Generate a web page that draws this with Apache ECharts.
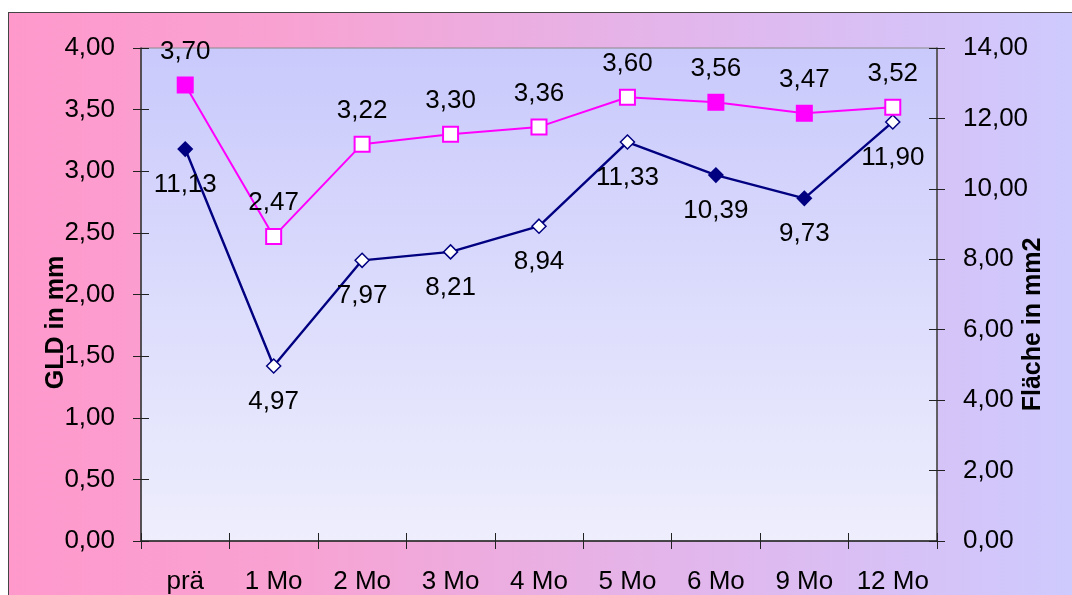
<!DOCTYPE html>
<html>

<head>
    <meta charset="utf-8">
    <script src="https://cdn.jsdelivr.net/npm/echarts@6/dist/echarts.min.js"></script>
    <style>
        body { margin: 0; overflow: hidden; background: #fff; }
        #frame {
            position: absolute; left: 8px; top: 12px; width: 1100px; height: 600px;
            border: 1px solid #444;
            background: linear-gradient(to right, #ff99cc 0%, #f8a2d2 25%, #e0b8ee 65%, #ccccff 100%);
        }
        #main { position: absolute; left: 0; top: 0; width: 1072px; height: 595px; }
    </style>
</head>

<body>
    <div id="frame"></div>
    <div id="main"></div>
    <script type="text/javascript">
        var months = ['prä', '1 Mo', '2 Mo', '3 Mo', '4 Mo', '5 Mo', '6 Mo', '9 Mo', '12 Mo'];
        var gld = [3.70, 2.47, 3.22, 3.30, 3.36, 3.60, 3.56, 3.47, 3.52];
        var flaeche = [11.13, 4.97, 7.97, 8.21, 8.94, 11.33, 10.39, 9.73, 11.90];
        // welche Punkte gefüllt sind (1) und welche hohl (0)
        var gldFilled = [1, 0, 0, 0, 0, 0, 1, 1, 0];
        var flaecheFilled = [1, 0, 0, 0, 0, 0, 1, 1, 0];

        var FONT = 'Liberation Sans, Arial, sans-serif';

        function fmt(v) {
            return Number(v).toFixed(2).replace('.', ',');
        }

        function points(values, filled, color) {
            return values.map(function (v, i) {
                return {
                    value: v,
                    itemStyle: { color: filled[i] ? color : '#ffffff', borderColor: color }
                };
            });
        }

        var chartDom = document.getElementById('main');
        var myChart = echarts.init(chartDom);

        var axisText = { color: '#000', fontSize: 26, fontFamily: FONT };
        var tick = { show: true, length: 8, lineStyle: { color: '#222', width: 1 } };

        var option = {
            animation: false,
            grid: {
                left: 141, top: 48, right: 135, bottom: 54,
                show: true,
                borderColor: '#8a8a8a',
                borderWidth: 1,
                backgroundColor: {
                    type: 'linear', x: 0, y: 0, x2: 0, y2: 1,
                    colorStops: [
                        { offset: 0, color: '#c9c9fc' },
                        { offset: 1, color: '#eeeefd' }
                    ]
                }
            },
            xAxis: [
                {
                    type: 'category',
                    data: months,
                    position: 'bottom',
                    axisLine: { lineStyle: { color: '#222', width: 1.5 } },
                    axisTick: tick,
                    axisLabel: Object.assign({ margin: 28, interval: 0 }, axisText),
                    splitLine: { show: false }
                },
                {
                    type: 'category',
                    data: months,
                    position: 'bottom',
                    axisLine: { show: false },
                    axisTick: Object.assign({ inside: true, interval: 0 }, tick),
                    axisLabel: { show: false },
                    splitLine: { show: false }
                }
            ],
            yAxis: [
                {
                    type: 'value', position: 'left',
                    min: 0, max: 4, interval: 0.5,
                    name: 'GLD in mm', nameLocation: 'middle', nameGap: 72, nameRotate: 90,
                    nameMoveOverlap: false,
                    nameTextStyle: { color: '#000', fontSize: 25, fontWeight: 'bold', fontFamily: FONT, padding: [0, 56, 0, 0] },
                    axisLine: { show: true, lineStyle: { color: '#333', width: 1.5 } },
                    axisTick: tick,
                    axisLabel: Object.assign({ margin: 26, formatter: fmt }, axisText),
                    splitLine: { show: false }
                },
                {
                    type: 'value', position: 'right',
                    min: 0, max: 14, interval: 2,
                    name: 'Fläche in mm2', nameLocation: 'middle', nameGap: 84, nameRotate: 90,
                    nameMoveOverlap: false,
                    nameTextStyle: { color: '#000', fontSize: 25, fontWeight: 'bold', fontFamily: FONT, padding: [0, 60, 0, 0] },
                    axisLine: { show: true, lineStyle: { color: '#444', width: 1.5 } },
                    axisTick: tick,
                    axisLabel: Object.assign({ margin: 26, formatter: fmt }, axisText),
                    splitLine: { show: false }
                },
                {
                    type: 'value', position: 'left',
                    min: 0, max: 4, interval: 0.5,
                    axisLine: { show: false },
                    axisTick: Object.assign({ inside: true }, tick),
                    axisLabel: { show: false },
                    splitLine: { show: false }
                },
                {
                    type: 'value', position: 'right',
                    min: 0, max: 14, interval: 2,
                    axisLine: { show: false },
                    axisTick: Object.assign({ inside: true }, tick),
                    axisLabel: { show: false },
                    splitLine: { show: false }
                }
            ],
            series: [
                {
                    name: 'Fläche',
                    type: 'line',
                    yAxisIndex: 1,
                    data: points(flaeche, flaecheFilled, '#000080'),
                    symbol: 'diamond',
                    symbolSize: 14,
                    showAllSymbol: true,
                    lineStyle: { color: '#000080', width: 2.4 },
                    itemStyle: { borderWidth: 1.5 },
                    label: {
                        show: true, position: 'bottom', distance: 15,
                        color: '#000', fontSize: 26, fontFamily: FONT,
                        formatter: function (p) { return fmt(p.value); }
                    }
                },
                {
                    name: 'GLD',
                    type: 'line',
                    yAxisIndex: 0,
                    data: points(gld, gldFilled, '#ff00ff'),
                    symbol: 'rect',
                    symbolSize: 15,
                    showAllSymbol: true,
                    lineStyle: { color: '#ff00ff', width: 2 },
                    itemStyle: { borderWidth: 2 },
                    label: {
                        show: true, position: 'top', distance: 12,
                        color: '#000', fontSize: 26, fontFamily: FONT,
                        formatter: function (p) { return fmt(p.value); }
                    }
                }
            ]
        };
        myChart.setOption(option);
    </script>
</body>

</html>
